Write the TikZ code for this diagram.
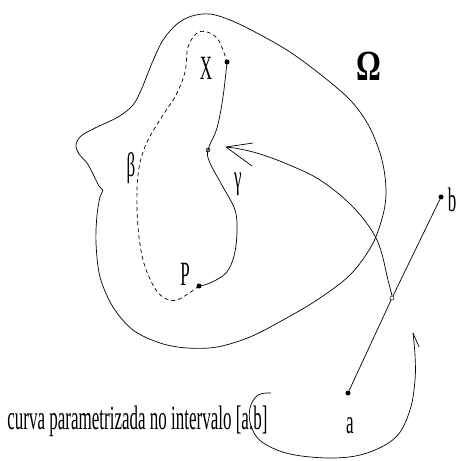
\documentclass[tikz,border=0pt]{standalone}
\usepackage{fontspec}
\setmainfont{Liberation Serif}
\newfontfamily\cond[FakeStretch=0.5]{Liberation Serif}
\newfontfamily\condo[FakeStretch=0.72]{Liberation Serif}
\begin{document}
\begin{tikzpicture}[x=1pt,y=-1pt,line width=0.7pt,
  lbl/.style={font=\cond\fontsize{34}{40}\selectfont, inner sep=0pt, anchor=base},
  bigl/.style={font=\condo\bfseries\fontsize{43}{50}\selectfont, inner sep=0pt, anchor=base},
  dotn/.style={circle, fill=black, inner sep=0pt, minimum size=5pt},
  odot/.style={circle, draw=black, fill=white, inner sep=0pt, minimum size=4pt, line width=0.5pt},
  gdot/.style={circle, draw=black, fill=gray!60, inner sep=0pt, minimum size=4pt, line width=0.5pt},
  dashcurve/.style={dash pattern=on 4pt off 3pt}]
\useasboundingbox (0,0) rectangle (457,461);

% boundary of Omega
\draw plot[smooth, tension=0.55] coordinates {(100,197) (97,215) (96,243) (100,277) (113,307) (133,330) (160,343) (187,348) (217,347) (250,337) (283,320) (317,300) (350,275) (372,245) (383,215) (386,190) (382,160) (370,128) (352,102) (325,78) (290,52) (255,32) (230,20) (210,14) (192,16) (177,24) (163,40) (152,63) (142,88) (133,105) (118,117) (95,128) (81,136) (76,145) (79,154) (87,163) (93,174) (99,186) (103,190)};
\draw (103,190) -- (100,197);

% points
\node[dotn] (X) at (227,62) {};
\node[dotn] (P) at (199,286) {};
\node[gdot] (G) at (208,150) {};
\node[dotn] (a) at (348,393) {};
\node[dotn] (b) at (441,197) {};
\node[odot] (M) at (392,298) {};
\coordinate (tip) at (226,147);
\coordinate (htip) at (413,333);
\coordinate (hstart) at (271,393);

% gamma
\draw plot[smooth, tension=0.6] coordinates {(X.center) (223,97) (217,128) (G.center) (210,163) (223,187) (235,210) (237,232) (234,256) (226,273) (210,283) (P.center)};

% beta (dashed)
\draw[dashcurve] plot[smooth, tension=0.6] coordinates {(P.center) (177,300) (163,297) (153,285) (143,260) (138,227) (137,190) (140,163) (148,140) (163,115) (176,95) (185,72) (188,47) (197,33) (207,32) (217,38) (223,50) (X.center)};

% segment a-b
\draw (a) -- (M) -- (b);

% arrow curve from M to gamma
\draw plot[smooth, tension=0.6] coordinates {(M.north) (388,280) (377,240) (353,207) (320,180) (287,164) (260,154) (240,149) (tip)};
\draw (tip) -- +(27,-4);
\draw (tip) -- +(26,19);

% harpoon curve
\draw plot[smooth, tension=0.6] coordinates {(hstart) (258,395) (250,408) (251,426) (262,442) (290,454) (333,458) (367,453) (396,437) (410,410) (415,380) (415,355) (htip)};
\draw (htip) -- +(6,14);

% labels
\node[lbl] (lX) at (206,79) {X};
\node[lbl] (lP) at (185,285) {P};
\node[lbl] (lg) at (238,188) {γ};
\node[lbl] (lb) at (131,176) {β};
\node[bigl] (lO) at (369,80) {Ω};
\node[lbl] (la) at (350,433) {a};
\node[lbl] (lbb) at (452,211) {b};
\node[lbl, anchor=base west] (txt) at (7,429) {curva parametrizada no intervalo [a.b]};
\end{tikzpicture}
\end{document}
